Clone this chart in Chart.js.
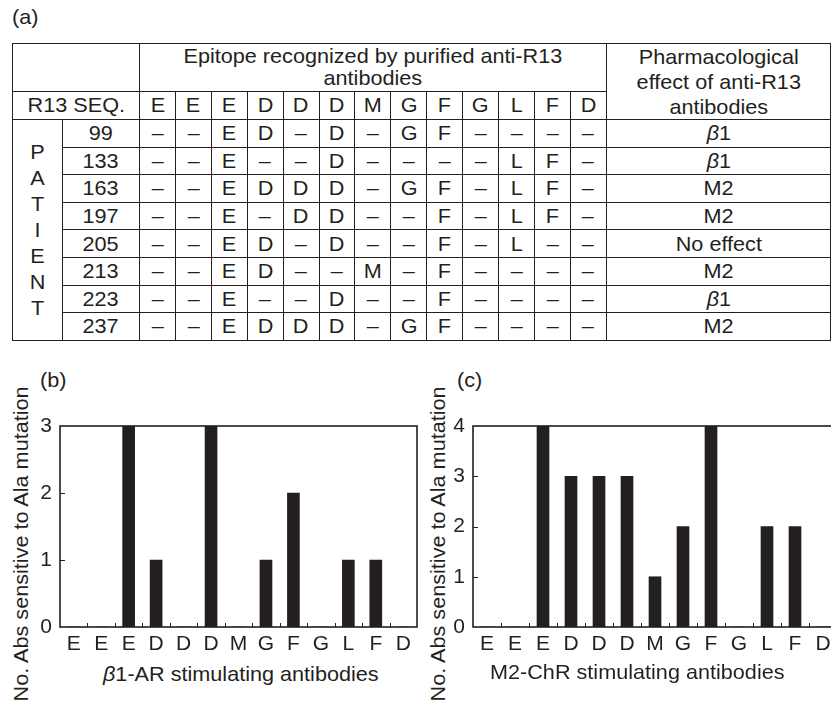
<!DOCTYPE html>
<html>
<head>
<meta charset="utf-8">
<script src="https://cdn.jsdelivr.net/npm/chart.js@4"></script>
<style>
  html, body { margin: 0; padding: 0; background: #fff; }
  body { width: 831px; height: 703px; overflow: hidden; position: relative;
         font-family: "Liberation Sans", Arial, Helvetica, sans-serif; color: #231f20; }
  .txt { position: absolute; font-size: 21px; white-space: nowrap; line-height: 24px;
         transform: scaleX(1.03); transform-origin: left center; }
  .s { display: inline-block; transform: scaleX(1.03); }
  #tbl { position: absolute; left: 12px; top: 43px; border-collapse: collapse; table-layout: fixed;
         font-size: 21px; }
  #tbl td { border: 1.6px solid #231f20; padding: 0; text-align: center; vertical-align: middle;
            line-height: 24px; white-space: nowrap; overflow: hidden; }
  #tbl tr.h1 td { height: 44px; line-height: 22.5px; }
  #tbl tr.h2 td { height: 26px; }
  #tbl tr.d td { height: 26.6px; }
  #tbl td.ytitle { line-height: 25px !important; }
  #tbl td.patient { line-height: 26px; white-space: normal; }
  .box { position: absolute; }
  .vt { position: absolute; writing-mode: vertical-rl; transform: rotate(180deg) scaleY(1.03);
        font-size: 21px; white-space: nowrap; line-height: 24px; }
</style>
</head>
<body>
<div class="txt" style="left:12px; top:5px;">(a)</div>
<table id="tbl"></table>

<div class="txt" style="left:40px; top:368px;">(b)</div>
<div class="txt" style="left:457px; top:368px;">(c)</div>

<div class="vt" style="left:9px; top:391px;">No. Abs sensitive to Ala mutation</div>
<div class="vt" style="left:426px; top:391px;">No. Abs sensitive to Ala mutation</div>

<div class="box" style="left:0px; top:400px; width:420px; height:260px;"><canvas id="chartB"></canvas></div>
<div class="box" style="left:413px; top:400px; width:430px; height:260px;"><canvas id="chartC"></canvas></div>

<div class="txt" style="left:103px; top:662px;"><i>β</i>1-AR stimulating antibodies</div>
<div class="txt" style="left:490px; top:660px;">M2-ChR stimulating antibodies</div>

<script>
// R13 sequence positions (x categories of both bar charts)
const residues = ['E', 'E', 'E', 'D', 'D', 'D', 'M', 'G', 'F', 'G', 'L', 'F', 'D'];

// table (a)
const patients = ['99', '133', '163', '197', '205', '213', '223', '237'];
const epitopes = [
  ['–', '–', 'E', 'D', '–', 'D', '–', 'G', 'F', '–', '–', '–', '–'],
  ['–', '–', 'E', '–', '–', 'D', '–', '–', '–', '–', 'L', 'F', '–'],
  ['–', '–', 'E', 'D', 'D', 'D', '–', 'G', 'F', '–', 'L', 'F', '–'],
  ['–', '–', 'E', '–', 'D', 'D', '–', '–', 'F', '–', 'L', 'F', '–'],
  ['–', '–', 'E', 'D', '–', 'D', '–', '–', 'F', '–', 'L', '–', '–'],
  ['–', '–', 'E', 'D', '–', '–', 'M', '–', 'F', '–', '–', '–', '–'],
  ['–', '–', 'E', '–', '–', 'D', '–', '–', 'F', '–', '–', '–', '–'],
  ['–', '–', 'E', 'D', 'D', 'D', '–', 'G', 'F', '–', '–', '–', '–']
];
const effects = ['<i>β</i>1', '<i>β</i>1', 'M2', 'M2', 'No effect', 'M2', '<i>β</i>1', 'M2'];

// bar charts (b) and (c)
const beta1Counts = [0, 0, 3, 1, 0, 3, 0, 1, 2, 0, 1, 1, 0];
const m2Counts = [0, 0, 4, 3, 3, 3, 1, 2, 4, 0, 2, 2, 0];

// build the table
const s = t => `<span class="s">${t}</span>`;
const colWidths = [51, 79].concat(residues.map(() => 36.6)).concat([230]);
let html = '<colgroup>' + colWidths.map(w => `<col style="width:${w}px">`).join('') + '</colgroup>';
html += '<tr class="h1"><td colspan="2"></td>' +
  `<td colspan="${residues.length}">${s('Epitope recognized by purified anti-R13<br>antibodies')}</td>` +
  `<td rowspan="2" class="ytitle">${s('Pharmacological<br>effect of anti-R13<br>antibodies')}</td></tr>`;
html += `<tr class="h2"><td colspan="2">${s('R13 SEQ.')}</td>` + residues.map(r => `<td>${s(r)}</td>`).join('') + '</tr>';
patients.forEach((p, i) => {
  html += '<tr class="d">';
  if (i === 0) {
    html += `<td rowspan="${patients.length}" class="patient">${s('PATIENT'.split('').join('<br>'))}</td>`;
  }
  html += `<td>${s(p)}</td>` + epitopes[i].map(e => `<td>${s(e)}</td>`).join('') + `<td>${s(effects[i])}</td></tr>`;
});
document.getElementById('tbl').innerHTML = html;

const ink = '#231f20';

// frame round the plot area plus small inward ticks
const framePlugin = {
  id: 'frame',
  afterDraw(chart) {
    const { ctx, chartArea: { left, top, right, bottom }, scales: { x, y } } = chart;
    ctx.save();
    ctx.strokeStyle = ink;
    ctx.lineWidth = 1.6;
    ctx.strokeRect(left, top, right - left, bottom - top);
    ctx.lineWidth = 1;
    for (let i = 1; i < residues.length; i++) {
      const bx = Math.round((x.getPixelForValue(i - 1) + x.getPixelForValue(i)) / 2) + 0.5;
      ctx.beginPath();
      ctx.moveTo(bx, bottom);
      ctx.lineTo(bx, bottom - 4);
      ctx.stroke();
    }
    y.ticks.forEach(t => {
      if (t.value <= y.min || t.value >= y.max) return;
      const py = Math.round(y.getPixelForValue(t.value)) + 0.5;
      ctx.beginPath();
      ctx.moveTo(left, py);
      ctx.lineTo(left + 5, py);
      ctx.stroke();
    });
    ctx.restore();
  }
};

function makeChart(id, counts, yMax, padLeft, padRight) {
  return new Chart(document.getElementById(id), {
    type: 'bar',
    data: {
      labels: residues,
      datasets: [{
        data: counts,
        backgroundColor: ink,
        borderWidth: 0,
        barThickness: 12
      }]
    },
    options: {
      responsive: true,
      maintainAspectRatio: false,
      animation: false,
      layout: { padding: { left: padLeft, right: padRight, top: 26, bottom: 0 } },
      scales: {
        x: {
          grid: { display: false, drawTicks: false },
          border: { display: false },
          ticks: { color: ink, padding: 5, font: { family: 'Liberation Sans', size: 21 } },
          afterFit(scale) { scale.height = 33; }
        },
        y: {
          min: 0,
          max: yMax,
          grid: { display: false, drawTicks: false },
          border: { display: false },
          ticks: { stepSize: 1, color: ink, padding: 8, font: { family: 'Liberation Sans', size: 21 } },
          afterFit(scale) { scale.width = 30; }
        }
      },
      plugins: {
        legend: { display: false },
        tooltip: { enabled: false }
      }
    },
    plugins: [framePlugin]
  });
}

makeChart('chartB', beta1Counts, 3, 30, 3);
makeChart('chartC', m2Counts, 4, 30, 6);
</script>
</body>
</html>
